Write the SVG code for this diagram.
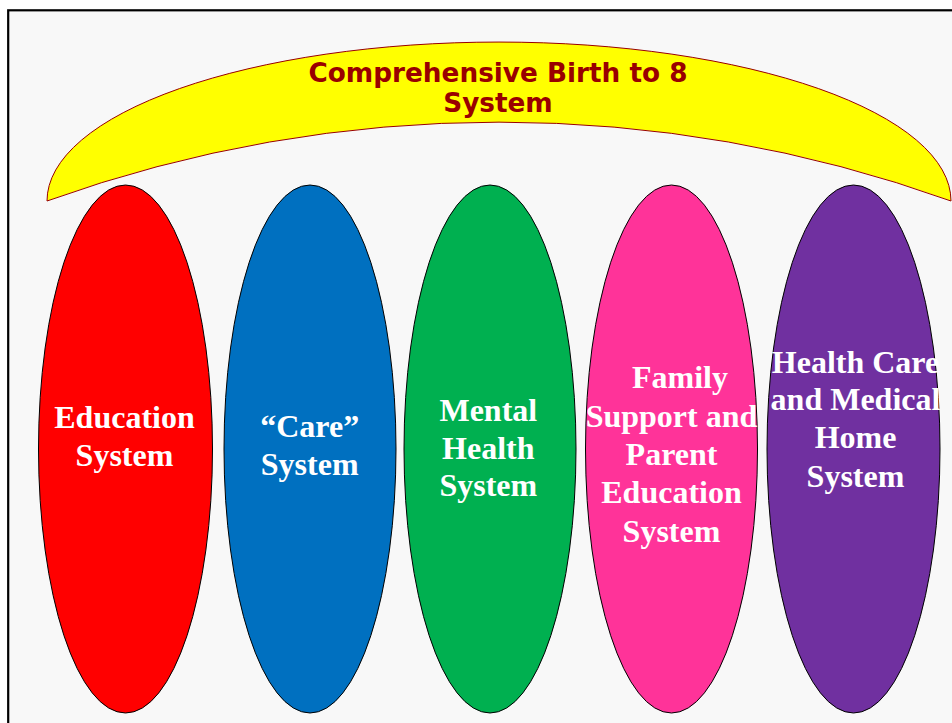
<svg xmlns="http://www.w3.org/2000/svg" width="952" height="723" viewBox="0 0 952 723">
<style>
.sys{stroke:#000;stroke-width:1}
.lbl{font-family:"Liberation Serif","Times New Roman",serif;font-weight:bold;font-size:32px;fill:#ffffff;text-anchor:middle}
.title{font-family:"DejaVu Sans",Verdana,sans-serif;font-weight:bold;font-size:26.3px;fill:#990000;text-anchor:middle}
</style>
<rect x="0" y="0" width="952" height="723" fill="#ffffff"/>
<rect x="8.2" y="10.3" width="960" height="730" fill="#f8f8f8" stroke="#000" stroke-width="2.2"/>
<g id="umbrella">
<path d="M 47 201 A 452 159 0 0 1 951 201 A 1335 1335 0 0 0 47 201 Z" fill="#ffff00" stroke="#990000" stroke-width="1"/>
<text class="title" x="498" y="81.5">Comprehensive Birth to 8</text>
<text class="title" x="498" y="111.5">System</text>
</g>
<g id="education">
<ellipse class="sys" cx="125.5" cy="449" rx="87" ry="264" fill="#ff0000"/>
<text class="lbl" x="124.5" y="428.3">Education</text>
<text class="lbl" x="124.5" y="466.3">System</text>
</g>
<g id="care">
<ellipse class="sys" cx="310" cy="449" rx="86" ry="264" fill="#0070c0"/>
<text class="lbl" x="309.7" y="436.7">“Care”</text>
<text class="lbl" x="309.7" y="475">System</text>
</g>
<g id="mental">
<ellipse class="sys" cx="490" cy="449" rx="86" ry="264" fill="#00b050"/>
<text class="lbl" x="488.3" y="421">Mental</text>
<text class="lbl" x="488.3" y="458.5">Health</text>
<text class="lbl" x="488.3" y="496">System</text>
</g>
<g id="family">
<ellipse class="sys" cx="671.5" cy="449" rx="86" ry="264" fill="#ff3399"/>
<text class="lbl" x="680" y="388.3">Family</text>
<text class="lbl" x="671.5" y="426.7">Support and</text>
<text class="lbl" x="671.5" y="465">Parent</text>
<text class="lbl" x="671.5" y="503.3">Education</text>
<text class="lbl" x="671.5" y="541.7">System</text>
</g>
<g id="health">
<ellipse class="sys" cx="853.5" cy="449" rx="86.5" ry="264" fill="#7030a0"/>
<text class="lbl" x="855.5" y="372.7">Health Care</text>
<text class="lbl" x="855.5" y="410">and Medical</text>
<text class="lbl" x="855.5" y="448.3">Home</text>
<text class="lbl" x="855.5" y="486.7">System</text>
</g>
<g id="connectors"/>
</svg>
